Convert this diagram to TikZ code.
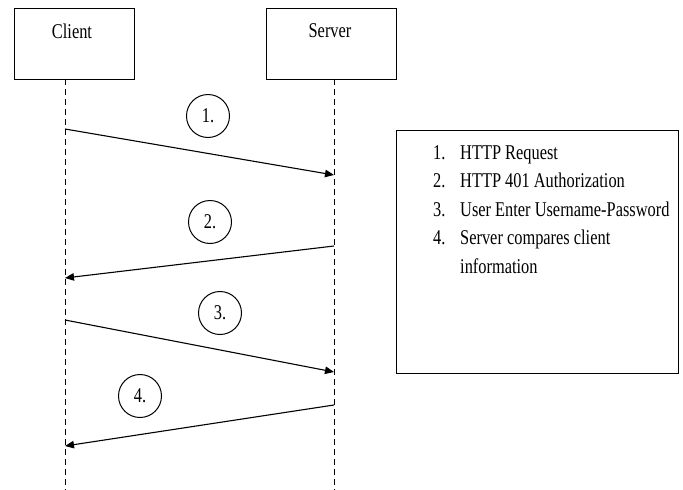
\documentclass[tikz,border=0pt]{standalone}
\usepackage{fontspec}
\setmainfont{Liberation Serif}[FakeStretch=0.78]
\usetikzlibrary{arrows.meta}
\begin{document}
\begin{tikzpicture}[x=1pt,y=-1pt,
  every node/.style={font=\fontsize{21}{25}\selectfont},
  actor/.style={draw, line width=1pt, minimum height=71pt, inner sep=0pt},
  lifeline/.style={line width=1pt, dash pattern=on 6pt off 4pt},
  msg/.style={line width=1.1pt, -{Triangle[length=9pt,width=7.5pt]}},
  num/.style={draw, circle, line width=1pt, minimum size=43pt, inner sep=0pt},
  legend/.style={draw, line width=1pt, minimum width=282pt, minimum height=243pt, inner sep=0pt},
  item/.style={anchor=base west, inner sep=0pt}]
\useasboundingbox (0,0) rectangle (683,490);

% participants
\node[actor, minimum width=120pt] (client) at (74,43.5) {};
\node (clientlbl) at (72,31) {Client};
\node[actor, minimum width=130pt] (server) at (331,43.5) {};
\node (serverlbl) at (330,31) {Server};

% lifelines
\coordinate (ctop) at (65,79);
\coordinate (cbot) at (65,490);
\coordinate (stop) at (334,79);
\coordinate (sbot) at (334,490);
\draw[lifeline] (ctop) -- (cbot);
\draw[lifeline] (stop) -- (sbot);

% messages
\coordinate (m1a) at (65,129);  \coordinate (m1b) at (334,175);
\coordinate (m2a) at (334,246); \coordinate (m2b) at (65,278);
\coordinate (m3a) at (65,320);  \coordinate (m3b) at (334,372);
\coordinate (m4a) at (334,405); \coordinate (m4b) at (65,446);
\draw[msg] (m1a) -- (m1b);
\draw[msg] (m2a) -- (m2b);
\draw[msg] (m3a) -- (m3b);
\draw[msg] (m4a) -- (m4b);

% step markers
\node[num] (n1) at (208,116) {1.};
\node[num] (n2) at (210,222) {2.};
\node[num] (n3) at (220,313) {3.};
\node[num] (n4) at (140,396) {4.};

% legend
\node[legend] (key) at (537,251.5) {};
\node[item] (k1n) at (433,159) {1.};
\node[item] (k1) at (460,159) {HTTP Request};
\node[item] (k2n) at (433,187.5) {2.};
\node[item] (k2) at (460,187.5) {HTTP 401 Authorization};
\node[item] (k3n) at (433,216) {3.};
\node[item] (k3) at (460,216) {User Enter Username-Password};
\node[item] (k4n) at (433,244.5) {4.};
\node[item] (k4) at (460,244.5) {Server compares client};
\node[item] (k4b) at (460,273) {information};
\end{tikzpicture}
\end{document}
